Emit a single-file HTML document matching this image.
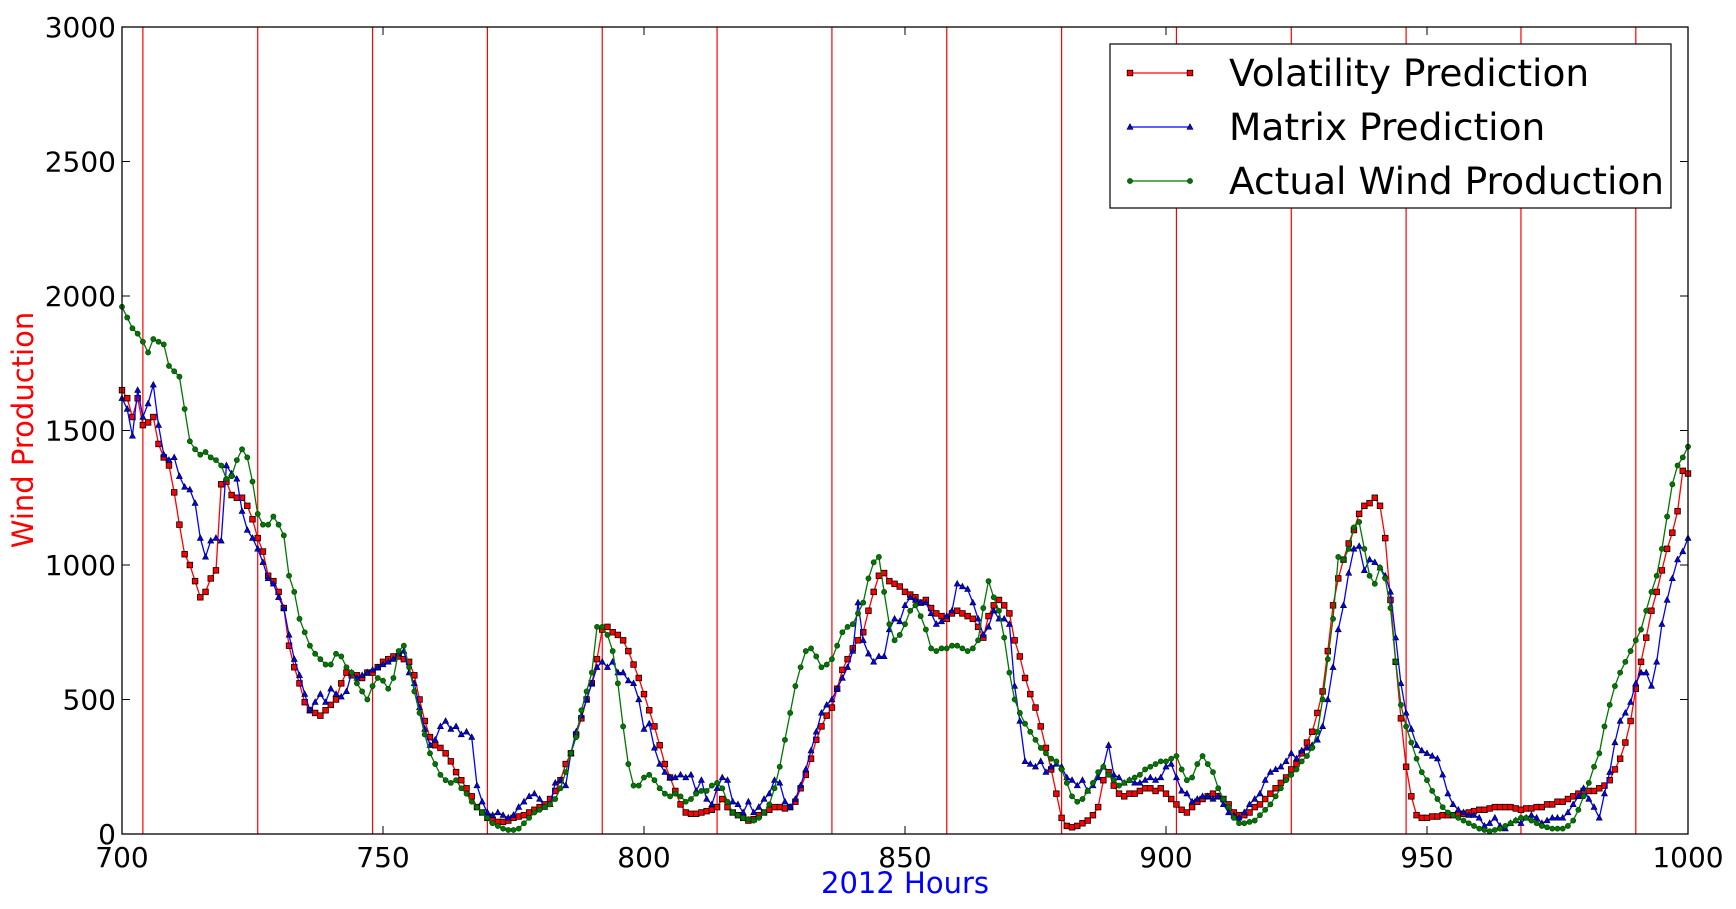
<!DOCTYPE html>
<html><head><meta charset="utf-8"><style>
body{margin:0;background:#fff;}
svg text{font-family:"DejaVu Sans","Liberation Sans",sans-serif;}
</style></head><body>
<svg id="chart" width="1736" height="904" xmlns="http://www.w3.org/2000/svg"></svg>
<script>
const hourStart = 700;
const xTicks = [700,750,800,850,900,950,1000];
const yTicks = [0,500,1000,1500,2000,2500,3000];
const vLines = [704,726,748,770,792,814,836,858,880,902,924,946,968,990];
const volatility = [
1650,1620,1550,1620,1520,1530,1550,1450,1400,1370,
1270,1150,1040,1000,940,880,900,950,980,1300,
1310,1260,1250,1250,1220,1170,1100,1050,960,940,
900,840,700,620,560,490,460,450,440,460,
480,500,560,600,590,590,580,600,600,620,
640,650,660,660,650,640,590,500,420,360,
330,320,300,270,230,200,170,140,100,80,
60,50,45,45,50,60,65,70,80,90,
100,110,130,160,200,260,300,370,430,500,
560,650,760,770,750,740,720,680,630,580,
520,460,400,330,260,210,160,110,80,75,
75,80,85,90,100,130,100,80,70,60,
50,55,70,80,90,100,100,95,100,120,
170,220,280,350,400,440,470,540,610,650,
690,720,750,830,900,960,970,940,930,920,
900,890,880,860,870,840,820,810,800,820,
830,820,810,800,770,730,810,850,870,850,
820,720,660,580,520,470,400,320,240,150,
60,30,25,30,40,50,70,100,200,230,
180,150,140,150,150,160,170,170,160,170,
150,130,110,90,80,100,120,130,140,150,
140,130,110,80,70,70,80,100,110,130,
150,170,190,210,240,260,300,340,380,450,
530,680,850,950,1020,1080,1130,1190,1220,1230,
1250,1220,1100,870,640,430,250,140,70,60,
60,65,65,70,70,70,75,75,80,85,
90,90,95,100,100,100,100,95,90,95,
95,100,100,110,110,120,120,130,140,150,
160,160,160,170,180,200,240,280,340,420,
540,640,730,830,900,980,1060,1120,1200,1350,
1340];
const matrix = [
1620,1580,1480,1650,1550,1600,1670,1520,1410,1390,
1400,1330,1290,1280,1230,1100,1030,1090,1100,1090,
1370,1340,1320,1200,1130,1100,1060,1010,950,930,
880,840,740,650,590,520,460,490,520,490,
540,520,510,530,600,580,590,600,610,620,
630,640,650,670,680,600,560,470,390,330,
350,400,420,390,400,370,380,360,180,120,
80,70,80,70,60,70,100,120,140,150,
130,100,110,190,200,180,300,380,440,500,
560,620,640,620,640,600,600,570,560,500,
390,410,320,260,230,210,210,220,210,220,
160,200,130,110,170,210,200,120,110,80,
120,80,100,130,150,200,190,120,100,130,
180,240,310,380,450,480,500,540,580,620,
680,860,720,670,640,660,660,760,800,790,
850,880,870,860,860,820,780,790,810,830,
930,920,910,860,800,740,770,830,800,800,
780,550,420,270,260,250,270,230,250,260,
250,210,200,180,200,160,180,210,250,330,
220,210,190,200,190,190,200,210,200,210,
250,260,210,160,150,120,130,140,140,130,
140,110,80,70,60,80,110,130,150,200,
230,240,250,270,300,280,310,320,330,350,
400,500,620,760,850,970,1060,1070,980,1020,
1010,990,960,900,730,560,450,390,330,310,
300,290,280,220,150,110,90,80,70,70,
60,30,40,60,30,20,40,50,40,60,
70,60,40,50,60,60,60,80,110,140,
170,130,100,60,150,230,340,420,450,490,
560,600,600,550,640,780,870,950,1020,1050,
1100];
const actual = [
1960,1920,1880,1860,1830,1790,1840,1830,1820,1740,
1720,1700,1580,1460,1430,1410,1420,1400,1390,1370,
1320,1330,1390,1430,1400,1310,1190,1150,1150,1180,
1150,1110,960,900,800,750,700,670,650,630,
630,670,660,620,600,560,530,500,550,580,
570,540,580,680,700,620,530,450,370,300,
260,220,200,190,200,170,150,120,100,80,
60,40,30,20,15,15,20,40,60,80,
90,100,110,130,170,230,300,360,460,530,
600,770,770,740,680,560,400,260,180,180,
210,220,200,170,150,140,150,140,120,130,
150,160,160,180,190,170,120,80,70,60,
55,50,60,80,110,170,250,350,450,550,
620,680,690,660,620,630,650,700,750,770,
780,820,860,950,1010,1030,900,780,720,740,
780,830,850,810,760,690,680,690,690,700,
700,690,680,690,720,840,940,880,830,730,
600,500,450,410,380,350,320,300,280,270,
240,190,140,120,130,160,190,230,250,220,
200,180,190,200,210,220,240,250,260,270,
270,280,290,240,200,210,260,290,260,230,
170,130,100,60,40,40,45,50,70,90,
110,140,170,200,220,240,270,290,320,380,
500,650,800,1030,1020,1060,1140,1160,1060,960,
930,990,950,840,640,480,400,340,280,230,
200,160,130,100,80,70,60,50,40,30,
20,15,10,15,20,30,40,50,60,60,
50,40,30,25,20,20,20,30,50,90,
140,190,250,300,400,480,550,600,640,680,
720,760,830,900,960,1060,1180,1300,1370,1400,
1440];

const NS='http://www.w3.org/2000/svg';
const svg=document.getElementById('chart');
const L=122,R=1688,T=27,B=834;
const xs=h=>L+(h-700)/300*(R-L);
const ys=v=>B-v/3000*(B-T);
function mk(tag,attrs,parent){const e=document.createElementNS(NS,tag);for(const k in attrs)e.setAttribute(k,attrs[k]);(parent||svg).appendChild(e);return e;}

const gv=mk('g',{});


vLines.forEach(h=>{const l=mk('line',{x1:xs(h),x2:xs(h),y1:T,y2:B,stroke:'#ff0000','stroke-width':1.2},gv);

});

function series(data,color,marker,name){
  const g=mk('g',{});
  
  
  const pts=data.map((v,i)=>xs(hourStart+i).toFixed(1)+','+ys(v).toFixed(1)).join(' ');
  mk('polyline',{points:pts,fill:'none',stroke:color,'stroke-width':1.3},g);
  data.forEach((v,i)=>{
    const x=xs(hourStart+i),y=ys(v);let m;
    if(marker==='s')m=mk('rect',{x:x-2.8,y:y-2.8,width:5.6,height:5.6,fill:color,stroke:'#000','stroke-width':0.8},g);
    else if(marker==='t')m=mk('polygon',{points:`${x},${y-3.3} ${x-3},${y+2.3} ${x+3},${y+2.3}`,fill:color,stroke:'#000','stroke-width':0.6},g);
    else m=mk('circle',{cx:x,cy:y,r:2.6,fill:color,stroke:'#0a3a0a','stroke-width':0.6},g);
    
    
  });
}
series(volatility,'#ff0000','s','volatility-series');
series(matrix,'#0000ff','t','matrix-series');
series(actual,'#007700','c','actual-series');

const fr=mk('rect',{x:L,y:T,width:R-L,height:B-T,fill:'none',stroke:'#000','stroke-width':1.3});



xTicks.forEach(h=>{const x=xs(h);
  mk('line',{x1:x,x2:x,y1:B,y2:B-8,stroke:'#000'});mk('line',{x1:x,x2:x,y1:T,y2:T+8,stroke:'#000'});
  const t=mk('text',{x:x,y:B+33,'text-anchor':'middle','font-size':28});t.textContent=h;
  
  });
yTicks.forEach(v=>{const y=ys(v);
  mk('line',{x1:L,x2:L+8,y1:y,y2:y,stroke:'#000'});mk('line',{x1:R,x2:R-8,y1:y,y2:y,stroke:'#000'});
  const t=mk('text',{x:L-6,y:y+10,'text-anchor':'end','font-size':28});t.textContent=v;
  
  });

const xl=mk('text',{x:(L+R)/2,y:893,'text-anchor':'middle','font-size':29,fill:'#0000ff'});xl.textContent='2012 Hours';


const yl=mk('text',{x:0,y:0,'text-anchor':'middle','font-size':29,fill:'#ff0000',transform:'translate(33,430) rotate(-90)'});yl.textContent='Wind Production';



const lg=mk('g',{});


mk('rect',{x:1110,y:44,width:561,height:164,fill:'#fff',stroke:'#000','stroke-width':1.2},lg);
[['Volatility Prediction','#ff0000','s'],['Matrix Prediction','#0000ff','t'],['Actual Wind Production','#007700','c']].forEach((e,i)=>{
  const y=73+i*54;
  const ge=mk('g',{},lg);
  
  
  mk('line',{x1:1130,x2:1190,y1:y,y2:y,stroke:e[1],'stroke-width':1.3},ge);
  [1130,1190].forEach(x=>{
    if(e[2]==='s')mk('rect',{x:x-2.8,y:y-2.8,width:5.6,height:5.6,fill:e[1],stroke:'#000','stroke-width':0.8},ge);
    else if(e[2]==='t')mk('polygon',{points:`${x},${y-3.3} ${x-3},${y+2.3} ${x+3},${y+2.3}`,fill:e[1],stroke:'#000','stroke-width':0.6},ge);
    else mk('circle',{cx:x,cy:y,r:2.6,fill:e[1],stroke:'#0a3a0a','stroke-width':0.6},ge);
  });
  const t=mk('text',{x:1229,y:y+13,'font-size':37.5},ge);t.textContent=e[0];
});
</script>
</body></html>
